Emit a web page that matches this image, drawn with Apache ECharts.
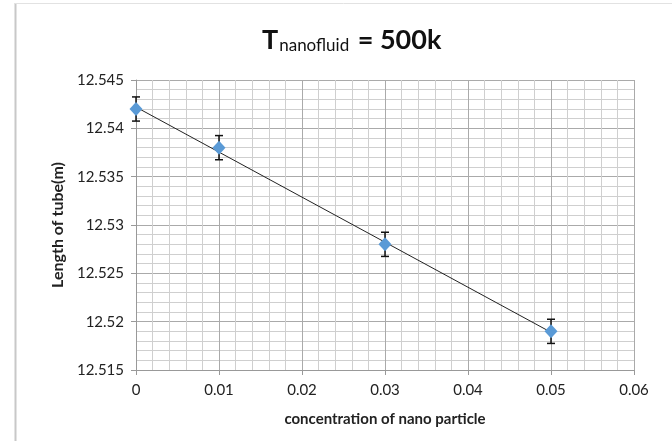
<!DOCTYPE html>
<html>
<head>
<meta charset="utf-8">
<script src="https://cdn.jsdelivr.net/npm/echarts@6/dist/echarts.min.js"></script>
<style>
  html, body { margin: 0; padding: 0; background: #fff; }
  #main { width: 672px; height: 441px; }
</style>
</head>
<body>
<div id="main"></div>
<script>
// values
var concentration = [0, 0.01, 0.03, 0.05];
var tubeLength = [12.542, 12.538, 12.528, 12.519];
var errAmount = [0.00125, 0.00125, 0.00125, 0.00125];
// straight trend line, end points
var trendX = [0, 0.05];
var trendY = [12.5422, 12.5189];

var chart = echarts.init(document.getElementById('main'));
var font = 'Lato, "Open Sans", sans-serif';

var points = concentration.map(function (c, i) { return [c, tubeLength[i]]; });
var bars = concentration.map(function (c, i) {
  return [c, tubeLength[i] - errAmount[i], tubeLength[i] + errAmount[i]];
});
var trend = trendX.map(function (x, i) { return [x, trendY[i]]; });

var option = {
  animation: false,
  backgroundColor: '#fff',
  title: {
    left: 257,
    top: 22,
    text: '{a|T}{b|nanofluid}{a| = 500k}',
    textStyle: {
      rich: {
        a: { fontFamily: font, fontSize: 27, fontWeight: 'bold', color: '#111', verticalAlign: 'bottom' },
        b: { fontFamily: font, fontSize: 17, fontWeight: 'normal', color: '#111', verticalAlign: 'bottom', padding: [0, 2, 0, 1] }
      }
    }
  },
  grid: { left: 136, right: 38, top: 80, bottom: 71 },
  xAxis: {
    type: 'value',
    min: 0, max: 0.06, interval: 0.01,
    name: 'concentration of nano particle',
    nameLocation: 'middle',
    nameGap: 42,
    nameTextStyle: { fontFamily: font, fontSize: 15, fontWeight: 'bold', color: '#222' },
    axisLine: { lineStyle: { color: '#999' } },
    axisTick: { show: true, length: 5, lineStyle: { color: '#999' } },
    axisLabel: { fontFamily: font, fontSize: 15, color: '#222', margin: 13 },
    splitLine: { show: true, lineStyle: { color: '#aaa' } },
    minorTick: { show: false, splitNumber: 5 },
    minorSplitLine: { show: true, lineStyle: { color: '#cfcfcf' } }
  },
  yAxis: {
    type: 'value',
    min: 12.515, max: 12.545, interval: 0.005,
    name: 'Length of tube(m)',
    nameLocation: 'middle',
    nameGap: 66,
    nameTextStyle: { fontFamily: font, fontSize: 16, fontWeight: 'bold', color: '#222' },
    axisLine: { show: true, lineStyle: { color: '#999' } },
    axisTick: { show: true, length: 5, lineStyle: { color: '#999' } },
    axisLabel: {
      fontFamily: font, fontSize: 15, color: '#222', margin: 12,
      formatter: function (v) { return String(parseFloat(v.toFixed(3))); }
    },
    splitLine: { show: true, lineStyle: { color: '#aaa' } },
    minorTick: { show: false, splitNumber: 5 },
    minorSplitLine: { show: true, lineStyle: { color: '#cfcfcf' } }
  },
  graphic: [
    { type: 'line', shape: { x1: 15.5, y1: 3, x2: 15.5, y2: 441 }, style: { stroke: '#c8c8c8', lineWidth: 2 } },
    { type: 'line', shape: { x1: 15, y1: 3.5, x2: 672, y2: 3.5 }, style: { stroke: '#e2e2e2', lineWidth: 1 } }
  ],
  series: [
    {
      type: 'line',
      data: trend,
      symbol: 'none',
      lineStyle: { color: '#222', width: 1 },
      z: 3
    },
    {
      type: 'custom',
      data: bars,
      z: 4,
      renderItem: function (params, api) {
        var top = api.coord([api.value(0), api.value(2)]);
        var bot = api.coord([api.value(0), api.value(1)]);
        var w = 4;
        var st = { stroke: '#111', lineWidth: 1.5 };
        return {
          type: 'group',
          children: [
            { type: 'line', shape: { x1: top[0], y1: top[1], x2: bot[0], y2: bot[1] }, style: st },
            { type: 'line', shape: { x1: top[0] - w, y1: top[1], x2: top[0] + w, y2: top[1] }, style: st },
            { type: 'line', shape: { x1: bot[0] - w, y1: bot[1], x2: bot[0] + w, y2: bot[1] }, style: st }
          ]
        };
      }
    },
    {
      type: 'scatter',
      data: points,
      symbol: 'diamond',
      symbolSize: [13, 14],
      itemStyle: { color: '#5a9ad6', opacity: 1 },
      z: 5
    }
  ]
};

chart.setOption(option);
</script>
</body>
</html>
